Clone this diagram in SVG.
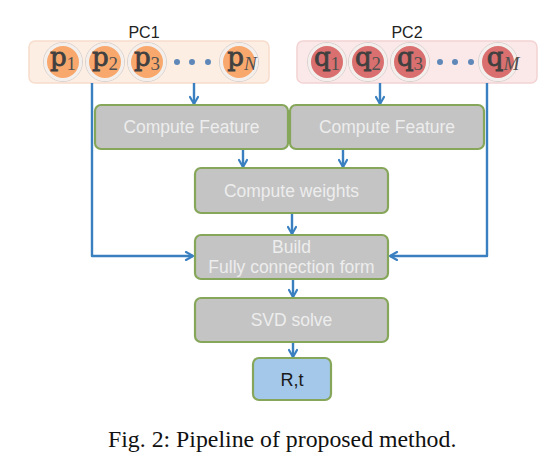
<svg xmlns="http://www.w3.org/2000/svg" width="558" height="470" viewBox="0 0 558 470">
<defs>
<marker id="arr" viewBox="0 0 10 10" refX="9" refY="5" markerWidth="10" markerHeight="10" markerUnits="userSpaceOnUse" orient="auto">
<path d="M2,1 L9,5 L2,9" fill="none" stroke="#3a80c1" stroke-width="2.2" stroke-linecap="round" stroke-linejoin="round"/>
</marker>
<style>
.box{fill:#c4c4c4;stroke:#86a65a;stroke-width:2.2}
.res{fill:#a3c8e9;stroke:#86a65a;stroke-width:2.2}
.bt{font-family:"Liberation Sans",Arial,sans-serif;font-size:17.5px;fill:#ededed;text-anchor:middle}
.pc{font-family:"Liberation Sans",Arial,sans-serif;font-size:16px;fill:#222;text-anchor:middle}
.pbox{fill:#fdeee4;stroke:#f8dccb;stroke-width:1.5}
.qbox{fill:#fbe9e9;stroke:#f4d2d2;stroke-width:1.5}
.pc1{fill:#f9a86d;stroke:#f3efed;stroke-width:3}
.qc{fill:#d9706f;stroke:#f3efed;stroke-width:3}
.ring{fill:none;stroke:#d8d2cf;stroke-width:1}
.lt{font-family:"DejaVu Serif","Liberation Serif",serif;font-size:26px;fill:#404040;stroke:#404040;stroke-width:0.8;text-anchor:middle}
.sb{font-family:"Liberation Serif",serif;font-size:19px;fill:#505050;stroke:none}
.dot{fill:#5f88b8}
.con{fill:none;stroke:#3a80c1;stroke-width:2.4;stroke-linejoin:round}
.cap{font-family:"Liberation Serif","Times New Roman",serif;font-size:23.8px;fill:#111}
</style>
</defs>

<g id="pc1">
<text class="pc" x="144" y="38">PC1</text>
<rect class="pbox" x="29" y="41" width="240" height="42" rx="6"/>
<g id="p1"><circle class="ring" cx="63" cy="62" r="19.5"/><circle class="pc1" cx="63" cy="62" r="17.5"/><text class="lt" x="63" y="66">p<tspan class="sb" dy="4">1</tspan></text></g>
<g id="p2"><circle class="ring" cx="105" cy="62" r="19.5"/><circle class="pc1" cx="105" cy="62" r="17.5"/><text class="lt" x="105" y="66">p<tspan class="sb" dy="4">2</tspan></text></g>
<g id="p3"><circle class="ring" cx="147" cy="62" r="19.5"/><circle class="pc1" cx="147" cy="62" r="17.5"/><text class="lt" x="147" y="66">p<tspan class="sb" dy="4">3</tspan></text></g>
<circle class="dot" cx="177" cy="62" r="3"/><circle class="dot" cx="192" cy="62" r="3"/><circle class="dot" cx="208" cy="62" r="3"/>
<g id="pN"><circle class="ring" cx="239" cy="62" r="19.5"/><circle class="pc1" cx="239" cy="62" r="17.5"/><text class="lt" x="242" y="66">p<tspan class="sb" dy="4" font-style="italic">N</tspan></text></g>
</g>

<g id="pc2">
<text class="pc" x="407" y="38">PC2</text>
<rect class="qbox" x="297" y="41" width="240" height="42" rx="6"/>
<g id="q1"><circle class="ring" cx="327" cy="62" r="19.5"/><circle class="qc" cx="327" cy="62" r="17.5"/><text class="lt" x="327" y="66">q<tspan class="sb" dy="4">1</tspan></text></g>
<g id="q2"><circle class="ring" cx="368" cy="62" r="19.5"/><circle class="qc" cx="368" cy="62" r="17.5"/><text class="lt" x="368" y="66">q<tspan class="sb" dy="4">2</tspan></text></g>
<g id="q3"><circle class="ring" cx="410" cy="62" r="19.5"/><circle class="qc" cx="410" cy="62" r="17.5"/><text class="lt" x="410" y="66">q<tspan class="sb" dy="4">3</tspan></text></g>
<circle class="dot" cx="440" cy="62" r="3"/><circle class="dot" cx="455" cy="62" r="3"/><circle class="dot" cx="471" cy="62" r="3"/>
<g id="qM"><circle class="ring" cx="498" cy="62" r="19.5"/><circle class="qc" cx="498" cy="62" r="17.5"/><text class="lt" x="503" y="66">q<tspan class="sb" dy="4" font-style="italic">M</tspan></text></g>
</g>

<g id="connectors">
<path class="con" d="M92,83 V256 H193" marker-end="url(#arr)"/>
<path class="con" d="M194,83 V104" marker-end="url(#arr)"/>
<path class="con" d="M380,83 V104" marker-end="url(#arr)"/>
<path class="con" d="M487,83 V256 H390" marker-end="url(#arr)"/>
<path class="con" d="M243,149 V167" marker-end="url(#arr)"/>
<path class="con" d="M343,149 V167" marker-end="url(#arr)"/>
<path class="con" d="M292,213 V234" marker-end="url(#arr)"/>
<path class="con" d="M293,279 V297" marker-end="url(#arr)"/>
<path class="con" d="M293,342 V357" marker-end="url(#arr)"/>
</g>

<g id="cf1"><rect class="box" x="95" y="105" width="193" height="44" rx="6"/><text class="bt" x="191.5" y="133">Compute Feature</text></g>
<g id="cf2"><rect class="box" x="290" y="105" width="194" height="44" rx="6"/><text class="bt" x="387" y="133">Compute Feature</text></g>
<g id="cw"><rect class="box" x="195" y="168" width="193" height="45" rx="6"/><text class="bt" x="291.5" y="197">Compute weights</text></g>
<g id="build"><rect class="box" x="195" y="235" width="193" height="44" rx="6"/><text class="bt" x="291.5" y="253">Build</text><text class="bt" x="291.5" y="273">Fully connection form</text></g>
<g id="svd"><rect class="box" x="195" y="298" width="193" height="44" rx="6"/><text class="bt" x="291.5" y="326">SVD solve</text></g>
<g id="rt"><rect class="res" x="253" y="358" width="78" height="42" rx="6"/><text class="pc" x="292" y="386" style="font-size:18px;fill:#1a1a1a">R,t</text></g>

<text class="cap" x="108" y="447">Fig. 2: Pipeline of proposed method.</text>
</svg>
